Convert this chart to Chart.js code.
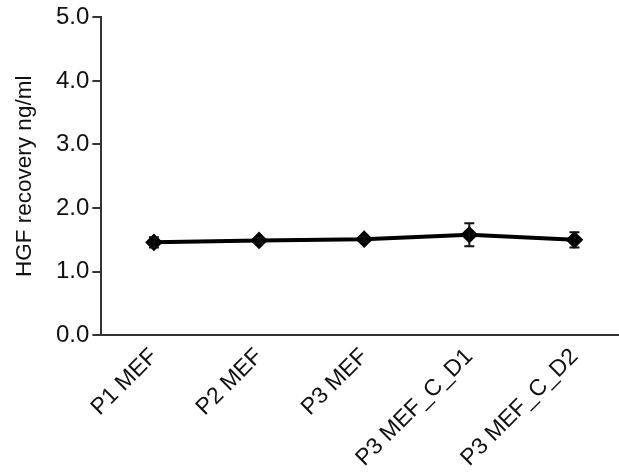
<!DOCTYPE html>
<html>
<head>
<meta charset="utf-8">
<script src="https://cdn.jsdelivr.net/npm/chart.js@4.4.1/dist/chart.umd.min.js"></script>
<style>
html,body{margin:0;padding:0;background:#fff;overflow:hidden;width:619px;height:473px;}
#wrap{width:640px;height:472px;}
</style>
</head>
<body>
<div id="wrap"><canvas id="c" width="640" height="472"></canvas></div>
<script>
const categories = ["P1 MEF", "P2 MEF", "P3 MEF", "P3 MEF_C_D1", "P3 MEF_C_D2"];
const hgfMeans = [1.46, 1.49, 1.51, 1.58, 1.50];
const hgfErrors = [0.08, 0.04, 0.04, 0.18, 0.12];
const yTicks = [0, 1, 2, 3, 4, 5];

const errorBarPlugin = {
  id: 'errorBars',
  afterDatasetsDraw(chart) {
    const ctx = chart.ctx;
    const xs = chart.scales.x, ys = chart.scales.y;
    ctx.save();
    ctx.strokeStyle = '#111';
    ctx.lineWidth = 2;
    hgfMeans.forEach((m, i) => {
      const x = xs.getPixelForValue(i);
      const yt = ys.getPixelForValue(m + hgfErrors[i]);
      const yb = ys.getPixelForValue(m - hgfErrors[i]);
      ctx.beginPath();
      ctx.moveTo(x, yt); ctx.lineTo(x, yb);
      ctx.moveTo(x - 5, yt); ctx.lineTo(x + 5, yt);
      ctx.moveTo(x - 5, yb); ctx.lineTo(x + 5, yb);
      ctx.stroke();
    });
    ctx.restore();
  }
};

new Chart(document.getElementById('c'), {
  type: 'line',
  data: {
    labels: categories,
    datasets: [{
      data: hgfMeans,
      borderColor: '#000',
      borderWidth: 4,
      pointStyle: 'rectRot',
      pointRadius: 6,
      pointBackgroundColor: '#000',
      pointBorderColor: '#000',
      tension: 0
    }]
  },
  options: {
    responsive: false,
    animation: false,
    layout: { padding: { top: 4, right: 13, left: 11, bottom: 0 } },
    plugins: { legend: { display: false }, tooltip: { enabled: false } },
    scales: {
      x: {
        offset: true,
        grid: { display: false },
        border: { display: true, color: '#333', width: 2 },
        ticks: {
          color: '#111',
          font: { family: 'Liberation Sans, Arial', size: 23 },
          minRotation: 45, maxRotation: 45,
          padding: 0,
          autoSkip: false
        }
      },
      y: {
        min: 0, max: 5,
        afterBuildTicks(scale) { scale.ticks = yTicks.map(v => ({ value: v })); },
        grid: { display: true, drawOnChartArea: false, drawTicks: true, tickLength: 9, color: '#333', lineWidth: 2 },
        border: { display: true, color: '#333', width: 2 },
        ticks: {
          color: '#111',
          font: { family: 'Liberation Sans, Arial', size: 24 },
          padding: 3,
          callback: v => Number(v).toFixed(1)
        },
        title: {
          display: true,
          text: 'HGF recovery ng/ml',
          color: '#111',
          font: { family: 'Liberation Sans, Arial', size: 22.5 },
          padding: { top: 0, bottom: 15 }
        }
      }
    }
  },
  plugins: [errorBarPlugin]
});
</script>
</body>
</html>
